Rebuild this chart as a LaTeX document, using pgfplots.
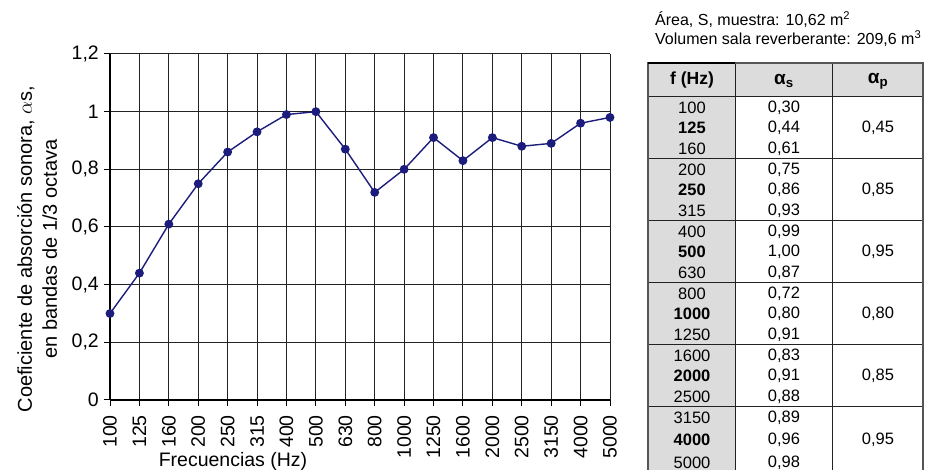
\documentclass[border=0pt]{standalone}
\usepackage{fontspec}
\setmainfont{Liberation Sans}
\usepackage{pgfplots}
\pgfplotsset{compat=1.18}

\definecolor{serie}{HTML}{1C1C7C}
\definecolor{rejilla}{HTML}{222222}
\definecolor{celda}{HTML}{DCDCDC}
\definecolor{borde}{HTML}{555555}

% one group of three rows of the table: top, row step, f1 f2 f3, a1 a2 a3, ap
\newcommand\grupo[9]{%
  \node at (692,{#1+10.5}) {#3};
  \node at (692,{#1+10.5+#2}) {\bfseries #4};
  \node at (692,{#1+10.5+2*#2}) {#5};
  \node at (784,{#1+10.5}) {#6};
  \node at (784,{#1+10.5+#2}) {#7};
  \node at (784,{#1+10.5+2*#2}) {#8};
  \node at (878,{#1+10.5+#2}) {#9};
}

\begin{document}
\begin{tikzpicture}
\useasboundingbox (0,0) rectangle (930pt,470pt);

\begin{axis}[
    at={(110pt,70pt)}, anchor=south west,
    scale only axis, width=500pt, height=346pt,
    xmin=0, xmax=17, ymin=0, ymax=1.2,
    xtick={0,...,17},
    xticklabels={100,125,160,200,250,315,400,500,630,800,1000,1250,1600,2000,2500,3150,4000,5000},
    ytick={0,0.2,0.4,0.6,0.8,1,1.2},
    axis x line=bottom, axis y line=left,
    axis line style={-, black, line width=1.3pt},
    tick align=outside, major tick length=6pt,
    tick style={black, line width=1pt},
    grid=major, grid style={rejilla, line width=1pt},
    tick label style={font=\fontsize{19.5}{22}\selectfont},
    x tick label style={rotate=90, anchor=east, inner xsep=9pt},
    y tick label style={inner xsep=5pt},
    /pgf/number format/.cd, use comma, assume math mode=true,
    /pgfplots/.cd,
    clip=false,
]
\addplot[serie, line width=1.4pt, mark=*, mark size=3.7pt,
         mark options={fill=serie, draw=serie}]
coordinates {
    (0,0.30) (1,0.44) (2,0.61) (3,0.75) (4,0.86) (5,0.93)
    (6,0.99) (7,1.00) (8,0.87) (9,0.72) (10,0.80) (11,0.91)
    (12,0.83) (13,0.91) (14,0.88) (15,0.89) (16,0.96) (17,0.98)
};
\end{axis}

% labels and table, in reference pixel coordinates (y downwards)
\begin{scope}[x=1pt, y=-1pt, yshift=470pt]
  \node[rotate=90, align=center, font=\fontsize{20}{25}\selectfont]
    at (37,249) {Coeficiente de absorción sonora, $\alpha$s,\\en bandas de 1/3 octava};
  \node[anchor=base, font=\fontsize{19.5}{22}\selectfont] at (233,467) {Frecuencias (Hz)};

  \begin{scope}[font=\fontsize{16}{18}\selectfont]
    \node[anchor=base west, inner sep=0pt] at (655,26) {Área, S, muestra: 10,62 m\textsuperscript{2}};
    \node[anchor=base west, inner sep=0pt] at (655,45) {Volumen sala reverberante: 209,6 m\textsuperscript{3}};
  \end{scope}

  \fill[celda] (648,63) rectangle (923,97);
  \fill[celda] (648,97) rectangle (735,480);
  \draw[rejilla, line width=1pt] (735,63) -- (735,480) (832,63) -- (832,480);
  \foreach \yy in {97,159,221,283,345,407}
    \draw[rejilla, line width=1pt] (648,\yy) -- (923,\yy);
  \draw[borde, line width=1.6pt] (648,480) -- (648,63) -- (923,63) -- (923,480);
  \draw[black, line width=1.6pt] (648,63) -- (735,63);

  \begin{scope}[font=\fontsize{16.5}{18}\selectfont, inner sep=0pt]
    \node[font=\fontsize{17.5}{20}\selectfont\bfseries] at (692,80) {f (Hz)};
    \node[font=\fontsize{19}{20}\selectfont\bfseries] at (784,81) {α\textsubscript{s}};
    \node[font=\fontsize{19}{20}\selectfont\bfseries] at (878,81) {α\textsubscript{p}};
    \grupo{97}{20.7}{100}{125}{160}{0,30}{0,44}{0,61}{0,45}
    \grupo{159}{20.7}{200}{250}{315}{0,75}{0,86}{0,93}{0,85}
    \grupo{221}{20.7}{400}{500}{630}{0,99}{1,00}{0,87}{0,95}
    \grupo{283}{20.7}{800}{1000}{1250}{0,72}{0,80}{0,91}{0,80}
    \grupo{345}{20.7}{1600}{2000}{2500}{0,83}{0,91}{0,88}{0,85}
    \grupo{407}{22.5}{3150}{4000}{5000}{0,89}{0,96}{0,98}{0,95}
  \end{scope}
\end{scope}
\end{tikzpicture}
\end{document}
